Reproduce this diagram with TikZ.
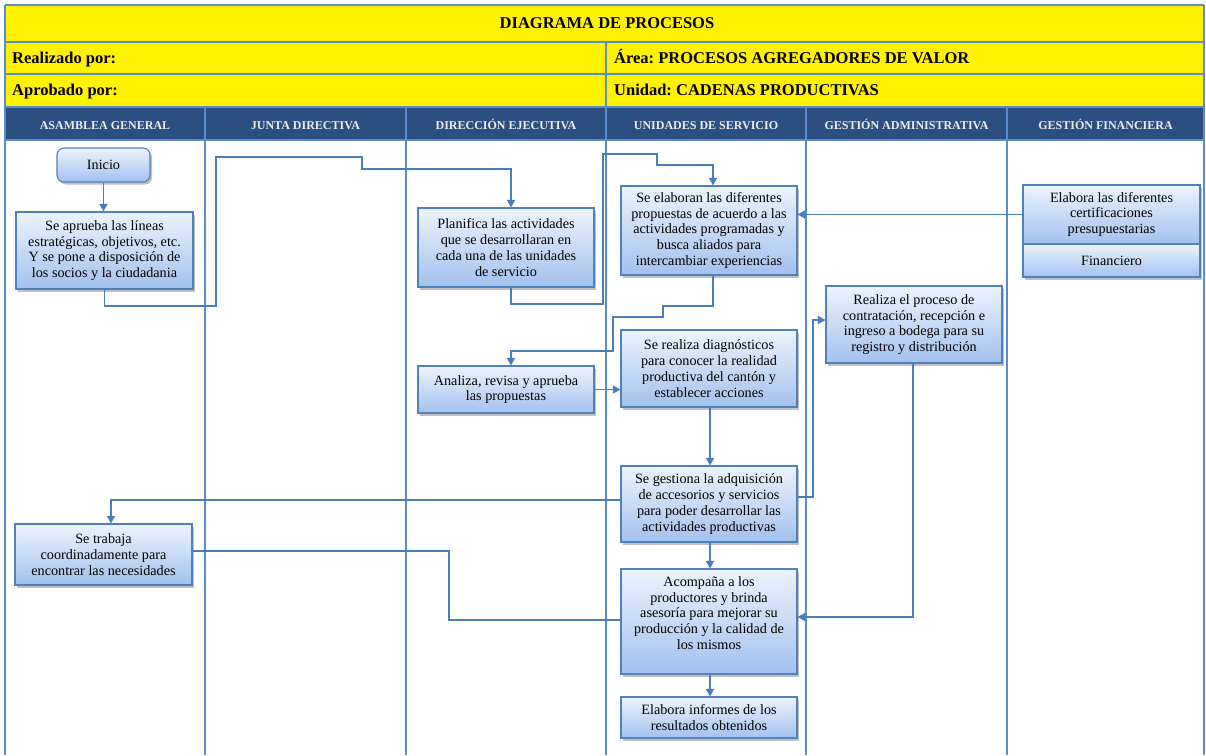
\documentclass[tikz,border=0pt]{standalone}
\usepackage{fontspec}
\setmainfont{Liberation Serif}
\usetikzlibrary{arrows.meta,shadows,calc}
\definecolor{lanecol}{HTML}{5B8BC8}
\definecolor{hdrcol}{HTML}{2A4F80}
\definecolor{boxtop}{HTML}{EDF3FD}
\definecolor{boxbot}{HTML}{A2C1EE}
\definecolor{boxline}{HTML}{4F81BD}
\definecolor{conncol}{HTML}{4A7EBB}
\tikzset{
  tabline/.style={draw=lanecol,line width=1.6pt},
  procbox/.style={draw=boxline,line width=1.1pt,top color=boxtop,bottom color=boxbot,
    drop shadow={shadow xshift=2pt,shadow yshift=-2.5pt,opacity=0.35,fill=black!70},
    align=center,inner sep=0pt,font=\fontsize{14.2}{15.8}\selectfont},
  plainbox/.style={draw=boxline,line width=1.1pt,top color=boxtop,bottom color=boxbot,
    drop shadow={shadow xshift=2pt,shadow yshift=-2.5pt,opacity=0.35,fill=black!70},
    inner sep=0pt},
  boxtext/.style={align=center,inner sep=0pt,font=\fontsize{14.2}{15.8}\selectfont},
  hdrtext/.style={anchor=base,text=white!93!black,font=\fontsize{12}{14}\selectfont\bfseries,inner sep=0pt},
  rowtext/.style={font=\fontsize{16.5}{19}\selectfont\bfseries,inner sep=0pt},
  conn/.style={draw=conncol,line width=1.5pt},
  arr/.style={conn,-{Triangle[width=8pt,length=7.5pt]}}
}
\begin{document}
\frenchspacing
\begin{tikzpicture}[x=1pt,y=-1pt]
\useasboundingbox (0,0) rectangle (1206,755);
\fill[white] (0,0) rectangle (1206,755);
% header area
\fill[yellow] (5,5) rectangle (1204,107);
\fill[hdrcol] (5,107) rectangle (1204,140);
\foreach \yy in {5,42,74,107,140} \draw[tabline] (5,\yy) -- (1204,\yy);
\draw[tabline] (606,42) -- (606,107);
\draw[tabline] (5,5) -- (5,755);
\draw[tabline] (1204,5) -- (1204,755);
\foreach \xx in {205,406,606,806,1007} \draw[tabline] (\xx,107) -- (\xx,755);

\node[rowtext,anchor=base] (title) at (607,28.5) {DIAGRAMA DE PROCESOS};
\node[rowtext,anchor=base west] (realiz) at (12,63.5) {Realizado por:};
\node[rowtext,anchor=base west] (area) at (614,63.5) {Área: PROCESOS AGREGADORES DE VALOR};
\node[rowtext,anchor=base west] (aprob) at (12,95.5) {Aprobado por:};
\node[rowtext,anchor=base west] (unidad) at (614,95.5) {Unidad: CADENAS PRODUCTIVAS};

\node[hdrtext] (h1) at (105,129) {ASAMBLEA GENERAL};
\node[hdrtext] (h2) at (305.5,129) {JUNTA DIRECTIVA};
\node[hdrtext] (h3) at (506,129) {DIRECCIÓN EJECUTIVA};
\node[hdrtext] (h4) at (706,129) {UNIDADES DE SERVICIO};
\node[hdrtext] (h5) at (906.5,129) {GESTIÓN ADMINISTRATIVA};
\node[hdrtext] (h6) at (1105.5,129) {GESTIÓN FINANCIERA};

% process boxes
\node[procbox,rounded corners=7pt,minimum width=93pt,minimum height=34pt] (inicio) at (103.5,165) {Inicio};
\node[procbox,minimum width=177pt,minimum height=77pt] (aprueba) at (104.5,250.5)
  {Se aprueba las líneas\\estratégicas, objetivos, etc.\\Y se pone a disposición de\\los socios y la ciudadania};
\node[procbox,minimum width=176pt,minimum height=79pt] (plan) at (506,247.5)
  {Planifica las actividades\\que se desarrollaran en\\cada una de las unidades\\de servicio};
\node[procbox,minimum width=176pt,minimum height=89pt] (elab) at (709,230.5)
  {Se elaboran las diferentes\\propuestas de acuerdo a las\\actividades programadas y\\busca aliados para\\intercambiar experiencias};
\node[procbox,minimum width=177pt,minimum height=59pt] (fin1) at (1111.5,214.5)
  {Elabora las diferentes\\certificaciones\\presupuestarias};
\node[procbox,minimum width=177pt,minimum height=33pt] (fin2) at (1111.5,260.5) {Financiero};
\node[procbox,minimum width=176pt,minimum height=77pt] (real) at (914,324.5)
  {Realiza el proceso de\\contratación, recepción e\\ingreso a bodega para su\\registro y distribución};
\node[procbox,minimum width=176pt,minimum height=47pt] (anal) at (506,389.5)
  {Analiza, revisa y aprueba\\las propuestas};
\node[procbox,minimum width=176pt,minimum height=77pt] (diag) at (709,368.5)
  {Se realiza diagnósticos\\para conocer la realidad\\productiva del cantón y\\establecer acciones};
\node[procbox,minimum width=176pt,minimum height=76pt] (gest) at (709,504)
  {Se gestiona la adquisición\\de accesorios y servicios\\para poder desarrollar las\\actividades productivas};
\node[procbox,minimum width=177pt,minimum height=61pt] (trab) at (103.5,554.5)
  {Se trabaja\\coordinadamente para\\encontrar las necesidades};
\node[plainbox,minimum width=176pt,minimum height=105pt] (acom) at (709,621.5) {};
\node[boxtext] (acomt) at (709,613)
  {Acompaña a los\\productores y brinda\\asesoría para mejorar su\\producción y la calidad de\\los mismos};
\node[procbox,minimum width=176pt,minimum height=41pt] (info) at (709,717.5)
  {Elabora informes de los\\resultados obtenidos};

% connectors
\draw[arr] (inicio.south) -- (inicio.south |- aprueba.north);
\draw[arr] (aprueba.south) -- (104.5,306) -- (216,306) -- (216,157) -- (362,157) -- (362,169)
  -- (511,169) -- (511,0 |- plan.north);
\draw[arr] (511,0 |- plan.south) -- (511,304) -- (603,304) -- (603,154) -- (657,154) -- (657,165)
  -- (713,165) -- (713,0 |- elab.north);
\draw[arr] (713,0 |- elab.south) -- (713,306) -- (663,306) -- (663,317) -- (613,317) -- (613,351)
  -- (511,351) -- (511,0 |- anal.north);
\draw[arr] (anal.east) -- (0,389.5 -| diag.west);
\draw[arr] (fin1.west) -- (0,214.5 -| elab.east);
\draw[arr] (710,0 |- diag.south) -- (710,0 |- gest.north);
\draw[arr] (gest.west |- 0,500) -- (111,500) -- (111,0 |- trab.north);
\draw[arr] (gest.east |- 0,497) -- (813,497) -- (813,320) -- (real.west |- 0,320);
\draw[arr] (913,0 |- real.south) -- (913,617) -- (acom.east |- 0,617);
\draw[conn] (trab.east |- 0,551) -- (449,551) -- (449,620) -- (acom.west |- 0,620);
\draw[arr] (710,0 |- gest.south) -- (710,0 |- acom.north);
\draw[arr] (710,0 |- acom.south) -- (710,0 |- info.north);
\end{tikzpicture}
\end{document}
